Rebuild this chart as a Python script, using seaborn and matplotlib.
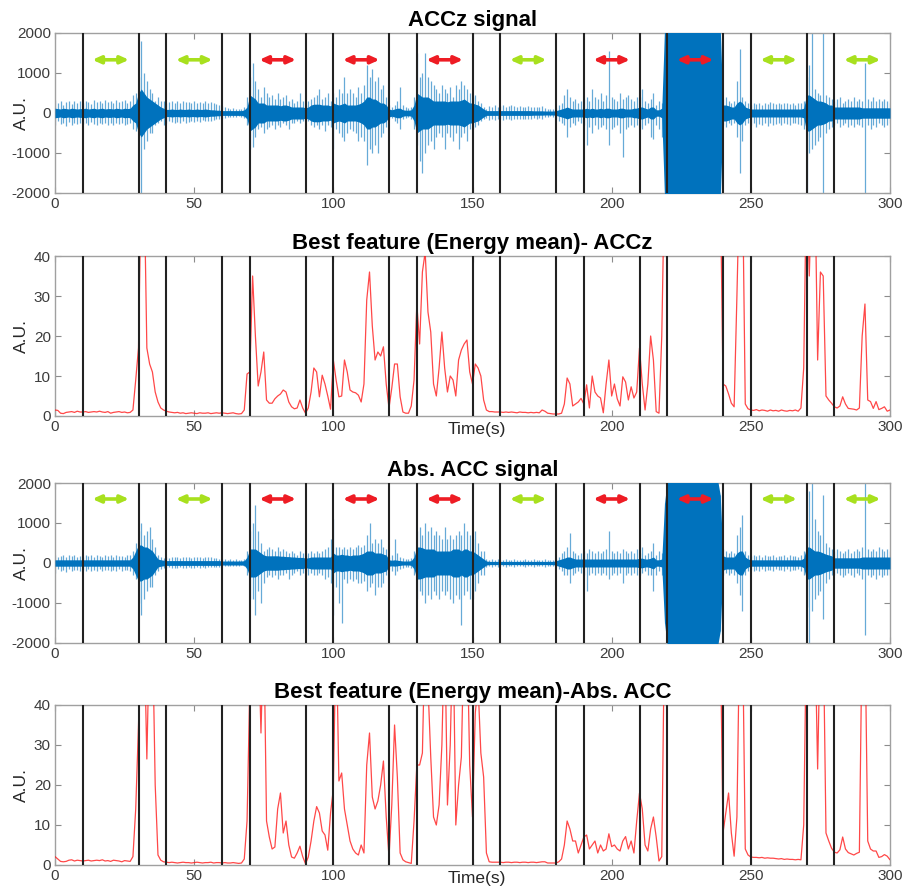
import numpy as np
import matplotlib
matplotlib.use("Agg")
import matplotlib.pyplot as plt
import seaborn as sns

# ---------------------------------------------------------------- data
# one value per second, t = 0 .. 300 s
time_s = np.arange(301)

# segment boundaries (s)
boundaries = [10, 30, 40, 60, 70, 90, 100, 120, 130, 150, 160, 180,
              190, 210, 220, 240, 250, 270, 280]

# activity arrows: centre time and kind
arrow_centers = [20, 50, 80, 110, 140, 170, 200, 230, 260, 290]
arrow_kinds = ["rest", "rest", "active", "active", "active",
               "rest", "active", "active", "rest", "rest"]

x_ticks = [0, 50, 100, 150, 200, 250, 300]
x_tick_labels = ["0", "50", "100", "150", "200", "250", "300"]
# under "Time(s)" the 150 label is left out
x_tick_labels_timed = ["0", "50", "100", "", "200", "250", "300"]

# ACCz signal: per-second positive peak, negative peak, dense-band half width
accz_hi = (
    [320, 250, 300, 200, 280, 310, 220, 300, 260, 290]
    + [250, 300, 280, 220, 320, 270, 300, 240, 330, 280]
    + [300, 250, 320, 270, 290, 330, 260, 300, 450, 500]
    + [900, 1800, 1000, 800, 600, 500, 300, 400, 300, 300]
    + [250, 280, 300, 260, 290, 250, 300, 270, 280, 260]
    + [300, 250, 280, 260, 300, 240, 270, 250, 220, 200]
    + [180, 150, 120, 100, 120, 100, 110, 90, 150, 400]
    + [900, 1250, 800, 600, 400, 650, 500, 400, 450, 350]
    + [500, 350, 400, 450, 300, 350, 250, 300, 500, 300]
    + [200, 300, 350, 400, 450, 600, 350, 400, 500, 300]
    + [500, 400, 600, 500, 900, 500, 600, 500, 400, 650]
    + [500, 700, 1200, 900, 1100, 800, 900, 600, 700, 400]
    + [200, 150, 200, 300, 650, 200, 150, 120, 150, 400]
    + [1500, 900, 1000, 1500, 900, 800, 700, 600, 500, 700]
    + [600, 500, 650, 400, 700, 600, 800, 700, 600, 500]
    + [400, 450, 300, 250, 150, 100, 180, 150, 200, 160]
    + [180, 200, 150, 180, 200, 170, 150, 180, 160, 150]
    + [170, 150, 160, 140, 150, 170, 130, 100, 90, 100]
    + [120, 200, 250, 450, 600, 400, 300, 350, 250, 300]
    + [350, 400, 300, 600, 400, 350, 500, 300, 450, 1550]
    + [400, 350, 300, 500, 350, 400, 450, 350, 300, 400]
    + [400, 600, 300, 250, 350, 500, 200, 300, 250, 2100]
    + [2100] * 20
    + [350, 400, 300, 250, 300, 800, 1600, 400, 300, 250]
    + [200, 250, 230, 260, 200, 250, 220, 270, 240, 230]
    + [250, 220, 260, 240, 230, 250, 210, 240, 260, 300]
    + [900, 1200, 2100, 600, 500, 450, 2100, 450, 400, 350]
    + [300, 350, 400, 250, 300, 350, 300, 400, 300, 350]
    + [300, 1250, 350, 300, 400, 300, 350, 300, 350, 300]
    + [250]
)
accz_lo = (
    [-300, -200, -280, -250, -320, -220, -300, -260, -280, -240]
    + [-280, -250, -300, -230, -270, -300, -250, -280, -240, -300]
    + [-260, -300, -240, -280, -250, -300, -270, -260, -400, -450]
    + [-600, -2100, -900, -700, -500, -500, -300, -250, -200, -300]
    + [-250, -200, -230, -260, -220, -250, -200, -240, -220, -200]
    + [-230, -200, -220, -180, -210, -190, -200, -170, -150, -160]
    + [-150, -130, -100, -90, -110, -100, -80, -90, -120, -300]
    + [-900, -850, -600, -400, -350, -500, -400, -350, -300, -400]
    + [-300, -350, -250, -300, -400, -250, -250, -200, -250, -200]
    + [-150, -200, -300, -350, -300, -400, -300, -450, -300, -350]
    + [-900, -400, -500, -600, -700, -500, -400, -450, -500, -700]
    + [-600, -700, -1300, -900, -1000, -800, -1000, -600, -500, -350]
    + [-150, -120, -200, -250, -400, -150, -120, -100, -150, -400]
    + [-800, -1200, -1500, -1000, -800, -700, -900, -600, -500, -600]
    + [-900, -500, -600, -700, -500, -900, -600, -500, -700, -400]
    + [-400, -350, -300, -200, -150, -120, -180, -150, -170, -160]
    + [-150, -170, -160, -150, -170, -140, -160, -150, -140, -150]
    + [-140, -160, -130, -150, -120, -140, -100, -90, -80, -100]
    + [-150, -200, -250, -300, -600, -350, -250, -300, -200, -250]
    + [-300, -800, -350, -500, -300, -400, -350, -300, -400, -800]
    + [-400, -350, -300, -500, -1100, -400, -350, -300, -350, -300]
    + [-350, -400, -300, -250, -600, -650, -300, -400, -600, -2100]
    + [-2100] * 20
    + [-300, -350, -250, -300, -250, -600, -1500, -700, -300, -250]
    + [-300, -250, -340, -280, -300, -260, -320, -250, -300, -280]
    + [-260, -300, -250, -280, -300, -260, -250, -280, -300, -400]
    + [-2100, -1000, -900, -800, -700, -600, -2100, -500, -400, -350]
    + [-300, -250, -350, -300, -250, -340, -300, -350, -280, -300]
    + [-350, -2100, -300, -400, -300, -350, -250, -300, -350, -300]
    + [-250]
)
accz_core = (
    [120, 110, 100, 120, 110, 100, 120, 110, 100, 110]
    + [110, 120, 100, 110, 120, 100, 110, 120, 100, 110]
    + [110, 100, 120, 110, 100, 120, 110, 120, 200, 250]
    + [500, 600, 500, 400, 350, 300, 250, 200, 150, 120]
    + [90, 90, 100, 90, 90, 100, 90, 90, 100, 90]
    + [90, 100, 90, 90, 100, 90, 80, 80, 70, 70]
    + [60, 60, 60, 60, 60, 60, 60, 60, 80, 150]
    + [450, 400, 350, 250, 250, 250, 200, 200, 200, 200]
    + [200, 180, 200, 200, 180, 150, 150, 150, 150, 150]
    + [130, 150, 200, 220, 220, 220, 200, 200, 200, 180]
    + [250, 220, 200, 220, 250, 200, 200, 200, 200, 220]
    + [250, 300, 400, 400, 350, 350, 300, 250, 250, 200]
    + [100, 80, 100, 120, 120, 80, 70, 70, 80, 200]
    + [500, 450, 400, 400, 400, 350, 300, 300, 300, 300]
    + [300, 280, 300, 300, 300, 300, 320, 350, 300, 250]
    + [250, 220, 200, 150, 100, 60, 60, 60, 60, 60]
    + [60, 60, 60, 60, 60, 60, 60, 60, 60, 60]
    + [60, 60, 55, 55, 55, 55, 50, 50, 50, 50]
    + [60, 80, 100, 120, 150, 120, 100, 100, 100, 100]
    + [100, 120, 100, 120, 100, 100, 120, 100, 120, 120]
    + [100, 100, 100, 120, 120, 100, 100, 100, 120, 120]
    + [150, 150, 120, 100, 150, 150, 80, 80, 120, 2100]
    + [2100] * 20
    + [200, 200, 180, 150, 150, 250, 300, 250, 150, 120]
    + [100, 100, 100, 100, 100, 100, 100, 100, 100, 100]
    + [100, 100, 100, 100, 100, 100, 100, 100, 100, 120]
    + [450, 450, 400, 350, 300, 300, 280, 250, 200, 200]
    + [150, 150, 150, 150, 150, 150, 150, 150, 150, 150]
    + [130, 130, 130, 130, 130, 130, 130, 130, 130, 130]
    + [130]
)

# Abs. ACC signal: per-second positive peak, negative peak, dense-band half width
abs_hi = (
    [200, 150, 180, 200, 150, 190, 170, 200, 160, 180]
    + [150, 200, 170, 190, 160, 200, 180, 150, 200, 170]
    + [190, 160, 200, 170, 180, 150, 190, 200, 300, 500]
    + [800, 1000, 700, 800, 900, 600, 400, 200, 150, 130]
    + [150, 130, 160, 140, 150, 130, 160, 140, 150, 130]
    + [150, 140, 160, 130, 150, 140, 150, 130, 120, 110]
    + [100, 90, 80, 90, 80, 90, 80, 70, 100, 300]
    + [800, 1000, 1450, 800, 500, 300, 350, 400, 350, 300]
    + [400, 300, 350, 300, 250, 300, 250, 200, 300, 250]
    + [200, 250, 300, 250, 300, 250, 300, 350, 400, 600]
    + [1100, 400, 400, 350, 400, 350, 400, 350, 400, 450]
    + [400, 450, 700, 1000, 500, 600, 500, 600, 400, 350]
    + [150, 200, 600, 250, 150, 120, 100, 100, 120, 300]
    + [800, 900, 700, 1000, 800, 900, 700, 800, 700, 600]
    + [900, 600, 700, 600, 700, 800, 700, 1000, 800, 700]
    + [600, 800, 500, 300, 300, 100, 80, 90, 80, 90]
    + [80, 70, 90, 80, 70, 90, 80, 70, 80, 90]
    + [80, 70, 90, 80, 70, 80, 90, 70, 80, 80]
    + [100, 150, 250, 300, 400, 750, 300, 250, 200, 250]
    + [300, 250, 350, 300, 250, 300, 250, 300, 350, 800]
    + [300, 250, 300, 250, 350, 300, 250, 300, 250, 350]
    + [250, 400, 200, 250, 300, 500, 200, 300, 250, 1500]
    + [2100] * 19 + [1700]
    + [350, 300, 250, 300, 250, 700, 900, 1200, 300, 200]
    + [180, 200, 170, 190, 160, 200, 180, 170, 190, 160]
    + [180, 170, 200, 160, 190, 170, 180, 160, 200, 300]
    + [800, 1800, 2100, 1100, 800, 700, 1700, 500, 400, 350]
    + [300, 350, 300, 250, 300, 350, 250, 300, 350, 300]
    + [400, 2100, 350, 300, 350, 300, 400, 350, 300, 350]
    + [300]
)
abs_lo = (
    [-250, -150, -200, -180, -220, -160, -200, -180, -170, -200]
    + [-180, -200, -150, -190, -170, -200, -160, -190, -180, -170]
    + [-200, -170, -190, -160, -200, -180, -170, -190, -300, -400]
    + [-1000, -1300, -900, -700, -600, -600, -300, -200, -150, -130]
    + [-130, -110, -120, -130, -120, -110, -130, -120, -110, -120]
    + [-120, -110, -130, -100, -120, -110, -100, -110, -90, -90]
    + [-80, -70, -80, -70, -80, -70, -70, -60, -80, -300]
    + [-900, -900, -1300, -700, -1000, -500, -350, -300, -350, -300]
    + [-400, -300, -300, -250, -400, -300, -250, -200, -300, -250]
    + [-200, -300, -250, -300, -300, -250, -300, -400, -350, -500]
    + [-1300, -600, -1000, -1500, -400, -500, -400, -450, -400, -500]
    + [-500, -450, -700, -600, -500, -800, -600, -600, -500, -300]
    + [-150, -200, -300, -200, -150, -120, -100, -100, -120, -300]
    + [-900, -700, -800, -1000, -800, -900, -700, -800, -900, -700]
    + [-800, -700, -900, -1000, -800, -900, -1550, -800, -700, -900]
    + [-900, -700, -500, -300, -300, -100, -80, -90, -80, -90]
    + [-80, -70, -90, -80, -70, -90, -80, -70, -80, -90]
    + [-80, -70, -90, -80, -70, -80, -90, -70, -80, -80]
    + [-100, -150, -200, -300, -300, -500, -300, -250, -200, -250]
    + [-300, -700, -300, -250, -300, -250, -300, -250, -300, -400]
    + [-300, -250, -300, -250, -500, -300, -250, -300, -250, -300]
    + [-300, -250, -200, -300, -300, -700, -300, -200, -300, -1500]
    + [-2100] * 19 + [-1700]
    + [-300, -250, -300, -250, -300, -500, -800, -1200, -300, -200]
    + [-180, -200, -170, -190, -160, -200, -180, -170, -190, -160]
    + [-180, -170, -200, -160, -190, -170, -180, -160, -200, -300]
    + [-1100, -2100, -1200, -900, -800, -700, -1400, -500, -400, -300]
    + [-300, -250, -300, -350, -300, -250, -300, -350, -250, -300]
    + [-400, -1800, -300, -350, -300, -400, -300, -350, -300, -300]
    + [-300]
)
abs_core = (
    [80, 80, 80, 80, 80, 80, 80, 80, 80, 80]
    + [80, 80, 80, 80, 80, 80, 80, 80, 80, 80]
    + [80, 80, 80, 80, 80, 80, 80, 80, 150, 300]
    + [450, 450, 400, 400, 350, 300, 200, 100, 80, 70]
    + [60, 60, 60, 60, 60, 60, 60, 60, 60, 60]
    + [60, 60, 60, 60, 60, 60, 60, 60, 60, 60]
    + [50, 50, 50, 50, 50, 50, 50, 50, 60, 150]
    + [350, 350, 350, 300, 250, 200, 180, 180, 180, 180]
    + [180, 170, 170, 160, 160, 150, 150, 140, 140, 140]
    + [120, 130, 150, 150, 150, 150, 150, 150, 150, 150]
    + [250, 200, 200, 220, 200, 200, 180, 200, 200, 200]
    + [220, 250, 300, 300, 300, 250, 250, 250, 220, 200]
    + [80, 70, 80, 70, 60, 50, 50, 50, 60, 150]
    + [400, 400, 380, 350, 350, 350, 350, 300, 300, 300]
    + [300, 300, 300, 350, 350, 350, 300, 350, 350, 300]
    + [300, 250, 200, 150, 100, 50, 40, 40, 40, 40]
    + [40, 40, 40, 40, 40, 40, 40, 40, 40, 40]
    + [40, 40, 40, 40, 40, 40, 40, 40, 40, 40]
    + [60, 80, 100, 120, 150, 150, 120, 100, 100, 100]
    + [100, 100, 100, 100, 100, 100, 100, 100, 100, 100]
    + [100, 100, 100, 100, 100, 100, 100, 100, 100, 100]
    + [120, 120, 100, 100, 120, 150, 80, 80, 100, 1500]
    + [2100] * 19 + [1700]
    + [180, 150, 150, 150, 150, 250, 300, 300, 150, 100]
    + [80, 80, 80, 80, 80, 80, 80, 80, 80, 80]
    + [80, 80, 80, 80, 80, 80, 80, 80, 80, 120]
    + [400, 400, 350, 300, 300, 280, 250, 220, 200, 180]
    + [130, 130, 130, 130, 130, 130, 130, 130, 130, 130]
    + [150, 150, 150, 150, 150, 150, 150, 150, 150, 150]
    + [150]
)

# best feature (energy mean), values above 40 run off the top of the axes
energy_accz = (
    [1.5, 1.4, 0.7, 0.6, 0.9, 1.0, 1.1, 0.9, 1.2, 1.0]
    + [1.0, 1.1, 0.9, 1.0, 1.1, 1.0, 1.2, 1.0, 0.9, 1.1]
    + [0.7, 0.9, 1.0, 1.1, 0.9, 1.0, 0.8, 0.9, 1.5, 9.0]
    + [17, 60, 60, 17, 13, 11, 6, 3.5, 2, 1.5]
    + [1.2, 1.0, 0.9, 0.8, 0.9, 0.7, 0.8, 0.6, 0.7, 0.8]
    + [0.7, 0.6, 0.8, 0.7, 0.7, 0.8, 0.6, 0.7, 0.8, 0.7]
    + [0.8, 0.7, 0.6, 0.7, 0.8, 0.6, 0.5, 0.6, 1.5, 10.5]
    + [11, 35, 20, 7.5, 11, 16, 4, 3.2, 3.2, 4.3]
    + [5, 5.5, 6.5, 6, 3.5, 2.3, 1.8, 2, 4, 2]
    + [0.7, 2, 6, 12, 11, 4.8, 10.2, 8, 5, 1.7]
    + [14, 9, 4.8, 5, 14, 11, 6.5, 6, 5.8, 5.2]
    + [3.5, 8, 29, 36, 22.5, 14, 16, 15, 17.3, 8]
    + [2, 7, 13, 13, 4.8, 1, 0.7, 0.7, 2.5, 9]
    + [28, 18, 36, 41, 26, 21, 8, 5, 12, 21]
    + [12, 6, 10, 9, 5, 14, 16.5, 18, 19, 11]
    + [8, 13, 12, 10, 4, 1.5, 1.1, 1.1, 1.0, 1.0]
    + [1.0, 0.9, 1.0, 0.9, 1.0, 0.9, 0.8, 1.0, 0.9, 0.9]
    + [0.8, 0.9, 0.8, 0.9, 0.8, 1.5, 1.2, 0.7, 0.6, 0.5]
    + [0.5, 0.5, 0.7, 3, 9.5, 8, 2.5, 3, 3.5, 4.4]
    + [3, 7.8, 2, 10, 6, 5, 4.5, 0.8, 8, 14]
    + [5, 8, 4.3, 2.5, 9.8, 8.5, 4, 7.3, 4.5, 6]
    + [17, 8, 1.5, 8, 20, 14, 1.1, 0.7, 20, 60]
    + [60] * 20
    + [8, 7.5, 5.5, 3.2, 2.3, 30, 60, 60, 3, 1.8]
    + [1.5, 1.4, 1.6, 1.3, 1.5, 1.4, 1.2, 1.5, 1.3, 1.4]
    + [1.2, 1.5, 1.3, 1.2, 1.4, 1.3, 1.5, 1.2, 2, 12]
    + [60, 35, 60, 60, 14, 36, 35, 5, 4, 3.2]
    + [2.3, 2, 2.5, 4.8, 3, 1.9, 1.8, 1.7, 1.5, 2]
    + [20, 28, 4, 3.6, 1.9, 3.6, 1.6, 1.9, 2.3, 1.2]
    + [1.5]
)
energy_abs = (
    [2.1, 1.5, 0.9, 0.8, 0.9, 1.2, 1.3, 1.0, 1.2, 1.1]
    + [1.0, 1.1, 1.2, 1.0, 1.1, 1.2, 1.1, 1.3, 1.0, 1.1]
    + [0.9, 1.2, 1.1, 1.0, 0.8, 1.1, 1.0, 0.9, 2.1, 14]
    + [35, 60, 60, 26.5, 60, 60, 20, 2.5, 1.2, 0.8]
    + [0.7, 0.6, 0.7, 0.6, 0.5, 0.6, 0.7, 0.6, 0.6, 0.5]
    + [0.6, 0.7, 0.6, 0.5, 0.6, 0.6, 0.7, 0.5, 0.6, 0.6]
    + [0.5, 0.6, 0.5, 0.5, 0.6, 0.5, 0.4, 0.5, 1.5, 11]
    + [45, 60, 60, 60, 33, 60, 11, 7, 4, 4.5]
    + [14, 18, 8, 11, 5, 2, 1.7, 3, 4.7, 2.1]
    + [0.3, 2, 6, 11, 14.6, 13, 8.5, 7.5, 3.7, 13]
    + [19, 60, 21, 23, 14, 10, 6, 4, 3, 2.5]
    + [5, 3, 25, 33, 17, 14, 16, 20, 26, 12]
    + [2, 15, 35, 22, 3, 1.3, 0.8, 0.6, 0.4, 11]
    + [25, 25, 28, 60, 45, 27, 12, 10, 15, 30]
    + [60, 15, 30, 60, 10, 20, 27, 60, 60, 25]
    + [12, 38, 45, 28, 22, 3, 0.8, 0.7, 0.7, 0.7]
    + [0.7, 0.6, 0.7, 0.7, 0.6, 0.7, 0.7, 0.6, 0.7, 0.7]
    + [0.6, 0.7, 0.7, 0.6, 0.7, 0.8, 0.8, 0.5, 0.5, 0.5]
    + [0.5, 0.8, 1.5, 5, 11, 9, 6, 6, 3, 5]
    + [7, 7.5, 4, 5, 6, 3, 5, 3.5, 4, 7.8]
    + [4.6, 5, 4, 3.5, 6, 7.1, 4, 6, 3, 11]
    + [18, 14, 5, 3.5, 9, 12, 7, 1, 2.1, 60]
    + [60] * 20
    + [8, 13, 18, 8, 2.2, 12, 60, 60, 4, 2.5]
    + [2.0, 1.9, 1.9, 1.8, 1.9, 1.7, 1.8, 1.7, 1.7, 1.6]
    + [1.5, 1.6, 1.4, 1.5, 1.4, 1.4, 1.3, 1.4, 1.3, 10]
    + [60, 60, 60, 60, 24, 60, 60, 8, 6, 4.2]
    + [3.2, 3, 3.8, 7, 4, 3.1, 2.8, 2.5, 2.9, 3.2]
    + [60, 60, 6, 4, 3.5, 3.5, 1.9, 2.1, 2.6, 2.2]
    + [1.3]
)

for series in (accz_hi, accz_lo, accz_core, abs_hi, abs_lo, abs_core,
               energy_accz, energy_abs):
    assert len(series) == len(time_s), len(series)

# ---------------------------------------------------------------- style
sns.set_theme(style="white")
plt.rcParams["font.family"] = ["Liberation Sans", "DejaVu Sans"]
plt.rcParams["axes.unicode_minus"] = False

SIGNAL_BLUE = "#0072BD"
FEATURE_RED = "#ff1a1a"
ARROW_COLORS = {"rest": "#a8e01e", "active": "#ee1c24"}
FRAME_GREY = "#a0a0a0"
TEXT_GREY = "#3c3c3c"

fig = plt.figure(figsize=(9.05, 8.89), dpi=100)
left, width, height = 55 / 905, 835 / 905, 160 / 889
bottoms = [(889 - 193) / 889, (889 - 416) / 889, (889 - 643) / 889, (889 - 865) / 889]
axes = [fig.add_axes([left, b, width, height]) for b in bottoms]


def style_axes(ax, ylim, yticks, xlabel=None):
    ax.set_xlim(0, 300)
    ax.set_ylim(*ylim)
    ax.set_xticks(x_ticks)
    ax.set_xticklabels(x_tick_labels_timed if xlabel else x_tick_labels)
    ax.set_yticks(yticks)
    ax.tick_params(direction="in", length=4, width=0.8, color="#8c8c8c",
                   labelcolor=TEXT_GREY, labelsize=11, top=True, right=True,
                   bottom=True, left=True, pad=3)
    for spine in ax.spines.values():
        spine.set_visible(True)
        spine.set_color(FRAME_GREY)
        spine.set_linewidth(1.0)
    ax.set_ylabel("A.U.", fontsize=12.5, color="#262626")
    ax.yaxis.set_label_coords(-0.031, 0.5)
    if xlabel:
        ax.set_xlabel(xlabel, fontsize=12.5, color="#262626")
        ax.xaxis.set_label_coords(0.505, -0.035)
    else:
        ax.set_xlabel("")
    ax.grid(False)


def draw_boundaries(ax):
    for b in boundaries:
        ax.axvline(b, color="#222222", lw=1.5, zorder=5)


def draw_signal(ax, hi, lo, core, arrow_y):
    hi, lo, core = np.asarray(hi), np.asarray(lo), np.asarray(core)
    ax.vlines(time_s, lo, hi, color=SIGNAL_BLUE, lw=0.9, alpha=0.6, zorder=2)
    ax.fill_between(time_s, -core, core, color=SIGNAL_BLUE, lw=0, zorder=3)
    for c, kind in zip(arrow_centers, arrow_kinds):
        ax.annotate("", xy=(c - 6.6, arrow_y), xytext=(c + 6.6, arrow_y),
                    arrowprops=dict(arrowstyle="<|-|>,head_length=0.4,head_width=0.18",
                                    color=ARROW_COLORS[kind], lw=2.6,
                                    shrinkA=0, shrinkB=0), zorder=6)


def draw_feature(ax, values):
    sns.lineplot(x=time_s, y=values, ax=ax, color=FEATURE_RED, lw=0.9,
                 alpha=0.8, zorder=3)


title_kw = dict(fontsize=16, fontweight="bold", color="black", pad=5)

# ACCz signal
ax = axes[0]
draw_signal(ax, accz_hi, accz_lo, accz_core, 1330)
draw_boundaries(ax)
style_axes(ax, (-2000, 2000), [-2000, -1000, 0, 1000, 2000])
ax.set_title("ACCz signal", **title_kw)

# energy mean of ACCz
ax = axes[1]
draw_feature(ax, energy_accz)
draw_boundaries(ax)
style_axes(ax, (0, 40), [0, 10, 20, 30, 40], xlabel="Time(s)")
ax.set_title("Best feature (Energy mean)- ACCz", **title_kw)

# Abs. ACC signal
ax = axes[2]
draw_signal(ax, abs_hi, abs_lo, abs_core, 1600)
draw_boundaries(ax)
style_axes(ax, (-2000, 2000), [-2000, -1000, 0, 1000, 2000])
ax.set_title("Abs. ACC signal", **title_kw)

# energy mean of Abs. ACC
ax = axes[3]
draw_feature(ax, energy_abs)
draw_boundaries(ax)
style_axes(ax, (0, 40), [0, 10, 20, 30, 40], xlabel="Time(s)")
ax.set_title("Best feature (Energy mean)-Abs. ACC", **title_kw)

fig.savefig("out.png", dpi=100)
